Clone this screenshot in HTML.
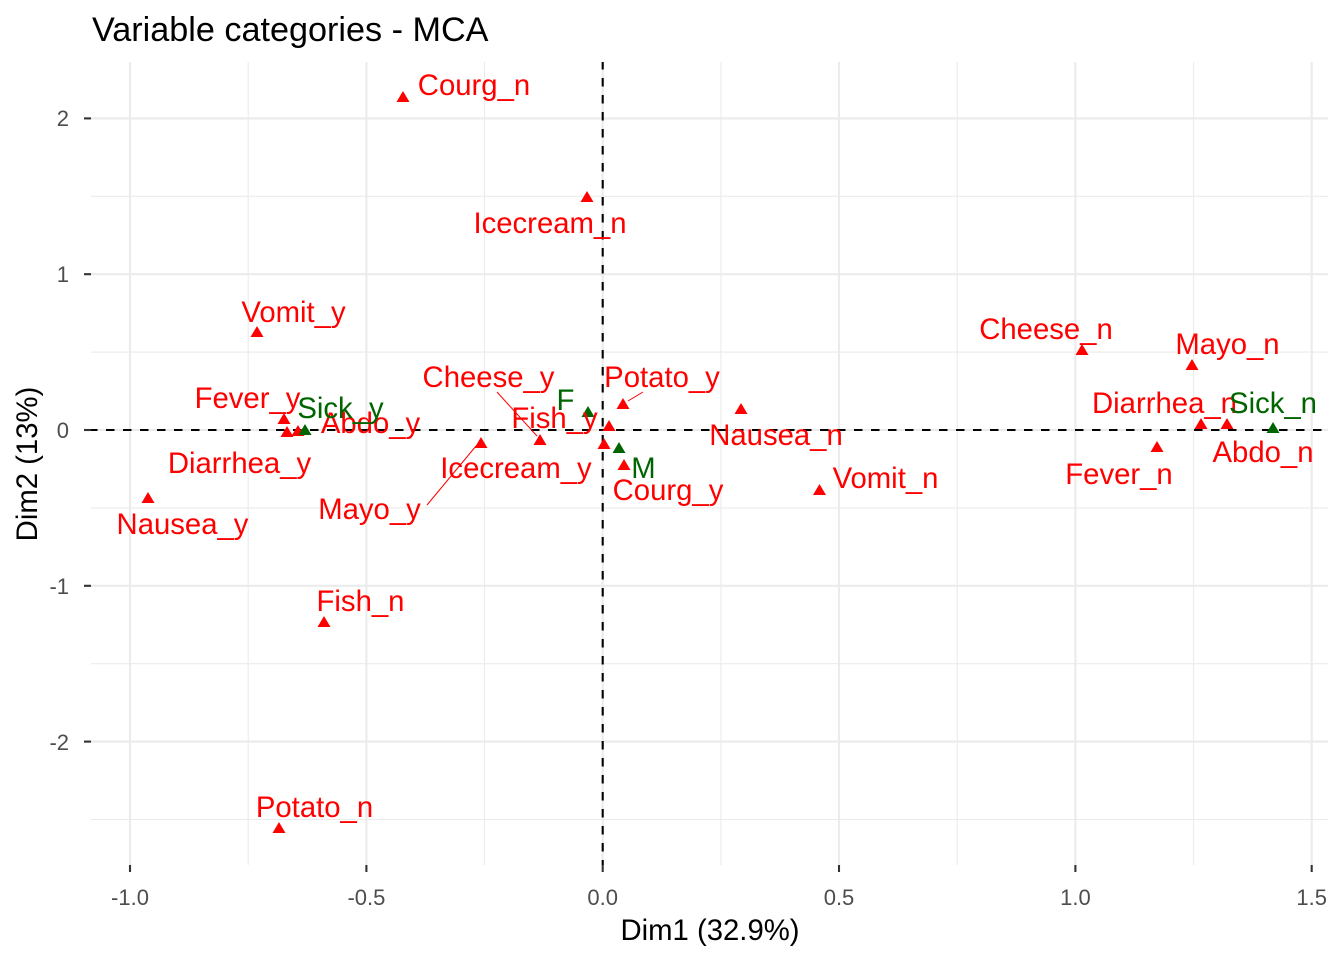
<!DOCTYPE html>
<html><head><meta charset="utf-8"><style>
html,body{margin:0;padding:0;background:#fff;}
svg{display:block;}
text{font-family:"Liberation Sans",Arial,sans-serif;}
</style></head><body>
<svg width="1344" height="960" viewBox="0 0 1344 960" xmlns="http://www.w3.org/2000/svg">
<rect width="1344" height="960" fill="#fff"/>
<!-- minor gridlines -->
<g stroke="#ebebeb" stroke-width="1.1">
<line x1="248.2" y1="62" x2="248.2" y2="865"/>
<line x1="484.5" y1="62" x2="484.5" y2="865"/>
<line x1="720.9" y1="62" x2="720.9" y2="865"/>
<line x1="957.2" y1="62" x2="957.2" y2="865"/>
<line x1="1193.6" y1="62" x2="1193.6" y2="865"/>
<line x1="91" y1="196.3" x2="1328" y2="196.3"/>
<line x1="91" y1="352.1" x2="1328" y2="352.1"/>
<line x1="91" y1="507.9" x2="1328" y2="507.9"/>
<line x1="91" y1="663.7" x2="1328" y2="663.7"/>
<line x1="91" y1="819.5" x2="1328" y2="819.5"/>
</g>
<!-- major gridlines -->
<g stroke="#ebebeb" stroke-width="2.1">
<line x1="130" y1="62" x2="130" y2="865"/>
<line x1="366.4" y1="62" x2="366.4" y2="865"/>
<line x1="602.7" y1="62" x2="602.7" y2="865"/>
<line x1="839" y1="62" x2="839" y2="865"/>
<line x1="1075.4" y1="62" x2="1075.4" y2="865"/>
<line x1="1311.7" y1="62" x2="1311.7" y2="865"/>
<line x1="91" y1="118.4" x2="1328" y2="118.4"/>
<line x1="91" y1="274.2" x2="1328" y2="274.2"/>
<line x1="91" y1="430" x2="1328" y2="430"/>
<line x1="91" y1="585.8" x2="1328" y2="585.8"/>
<line x1="91" y1="741.6" x2="1328" y2="741.6"/>
</g>
<!-- axis ticks -->
<g stroke="#333" stroke-width="2.1">
<line x1="84" y1="118.4" x2="91" y2="118.4"/>
<line x1="84" y1="274.2" x2="91" y2="274.2"/>
<line x1="84" y1="430" x2="91" y2="430"/>
<line x1="84" y1="585.8" x2="91" y2="585.8"/>
<line x1="84" y1="741.6" x2="91" y2="741.6"/>
<line x1="130" y1="865" x2="130" y2="872"/>
<line x1="366.4" y1="865" x2="366.4" y2="872"/>
<line x1="602.7" y1="865" x2="602.7" y2="872"/>
<line x1="839" y1="865" x2="839" y2="872"/>
<line x1="1075.4" y1="865" x2="1075.4" y2="872"/>
<line x1="1311.7" y1="865" x2="1311.7" y2="872"/>
</g>
<!-- dashed reference lines -->
<g stroke="#000" stroke-width="2.1" stroke-dasharray="8.5 8.5">
<line x1="91" y1="430" x2="1328" y2="430" stroke-dashoffset="2"/>
<line x1="602.7" y1="62" x2="602.7" y2="865" stroke-dashoffset="1"/>
</g>
<!-- segments -->
<g stroke="#ff0000" stroke-width="1">
<line x1="497" y1="392" x2="537" y2="436"/>
<line x1="643" y1="392" x2="628" y2="401"/>
<line x1="427" y1="505" x2="476" y2="446"/>
</g>
<!-- red points -->
<g fill="#ff0000">
<polygon points="396.5,102 409.5,102 403,91"/>
<polygon points="580.5,202 593.5,202 587,191"/>
<polygon points="250.5,337 263.5,337 257,326"/>
<polygon points="1075.5,355 1088.5,355 1082,344"/>
<polygon points="1185.5,370 1198.5,370 1192,359"/>
<polygon points="616.5,409 629.5,409 623,398"/>
<polygon points="734.5,414 747.5,414 741,403"/>
<polygon points="277.5,424 290.5,424 284,413"/>
<polygon points="602.5,431 615.5,431 609,420"/>
<polygon points="1194.5,429 1207.5,429 1201,418"/>
<polygon points="1220.5,429 1233.5,429 1227,418"/>
<polygon points="280.5,437 293.5,437 287,426"/>
<polygon points="291.5,436 304.5,436 298,425"/>
<polygon points="533.5,445 546.5,445 540,434"/>
<polygon points="474.5,448 487.5,448 481,437"/>
<polygon points="597.5,449 610.5,449 604,438"/>
<polygon points="1150.5,452 1163.5,452 1157,441"/>
<polygon points="617.5,470 630.5,470 624,459"/>
<polygon points="813,495 826,495 819.5,484"/>
<polygon points="141.5,503 154.5,503 148,492"/>
<polygon points="317.5,627 330.5,627 324,616"/>
<polygon points="272.5,833 285.5,833 279,822"/>
</g>
<!-- green points -->
<g fill="#006400">
<polygon points="581.5,417 594.5,417 588,406"/>
<polygon points="612.5,453 625.5,453 619,442"/>
<polygon points="298.5,435 311.5,435 305,424"/>
<polygon points="1266.5,433 1279.5,433 1273,422"/>
</g>
<!-- labels -->
<g font-size="29.3" fill="#ff0000" text-anchor="middle">
<text x="474" y="95">Courg_n</text>
<text x="550" y="233">Icecream_n</text>
<text x="293.5" y="322">Vomit_y</text>
<text x="1046" y="339">Cheese_n</text>
<text x="1227.5" y="354">Mayo_n</text>
<text x="488.5" y="387">Cheese_y</text>
<text x="662" y="387">Potato_y</text>
<text x="247.5" y="408">Fever_y</text>
<text x="1164.5" y="413">Diarrhea_n</text>
<text x="554.5" y="428">Fish_y</text>
<text x="370.5" y="433">Abdo_y</text>
<text x="776" y="445">Nausea_n</text>
<text x="1263" y="462">Abdo_n</text>
<text x="239.5" y="473">Diarrhea_y</text>
<text x="516" y="478">Icecream_y</text>
<text x="1119" y="484">Fever_n</text>
<text x="885.5" y="488">Vomit_n</text>
<text x="668" y="500">Courg_y</text>
<text x="369.5" y="519">Mayo_y</text>
<text x="182.5" y="534">Nausea_y</text>
<text x="360.5" y="611">Fish_n</text>
<text x="314.5" y="817">Potato_n</text>
</g>
<g font-size="29.3" fill="#006400" text-anchor="middle">
<text x="565.5" y="410">F</text>
<text x="1273" y="413">Sick_n</text>
<text x="340.5" y="418">Sick_y</text>
<text x="643.5" y="478">M</text>
</g>
<!-- tick labels -->
<g font-size="22" fill="#4d4d4d" text-anchor="end">
<text x="69" y="126">2</text>
<text x="69" y="282">1</text>
<text x="69" y="438">0</text>
<text x="69" y="594">-1</text>
<text x="69" y="750">-2</text>
</g>
<g font-size="22" fill="#4d4d4d" text-anchor="middle">
<text x="130" y="905">-1.0</text>
<text x="366.4" y="905">-0.5</text>
<text x="602.7" y="905">0.0</text>
<text x="839" y="905">0.5</text>
<text x="1075.4" y="905">1.0</text>
<text x="1311.7" y="905">1.5</text>
</g>
<!-- axis titles -->
<text x="710" y="940" font-size="29.3" fill="#000" text-anchor="middle">Dim1 (32.9%)</text>
<text transform="translate(37,464) rotate(-90)" font-size="29.3" fill="#000" text-anchor="middle">Dim2 (13%)</text>
<!-- title -->
<text x="92" y="41" font-size="34.2" fill="#000">Variable categories - MCA</text>
</svg>
</body></html>
